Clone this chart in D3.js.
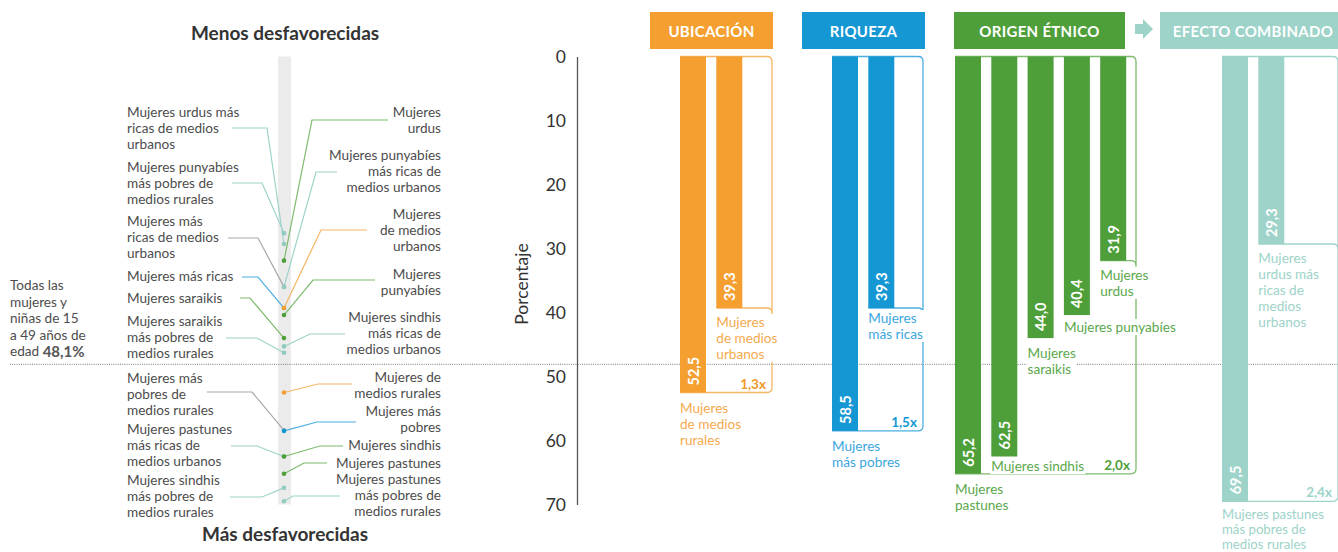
<!DOCTYPE html>
<html><head><meta charset="utf-8">
<script src="https://cdn.jsdelivr.net/npm/d3@7"></script>
<style>
body{margin:0;background:#fff;}
svg{display:block;font-family:Lato,"Open Sans",sans-serif;}
</style></head><body>
<svg id="chart" width="1338" height="552"></svg>
<script>
// ---- data ----
const yTicks = [0, 10, 20, 30, 40, 50, 60, 70];
const overallValue = 48.1;

const groupNames = ["UBICACIÓN", "RIQUEZA", "ORIGEN ÉTNICO", "EFECTO COMBINADO"];
const groupKeys = ["ubicacion", "riqueza", "etnico", "combinado"];

const ubicacionCats = ["Mujeres|de medios|rurales", "Mujeres|de medios|urbanos"];
const ubicacionValues = [52.5, 39.3];
const riquezaCats = ["Mujeres|más pobres", "Mujeres|más ricas"];
const riquezaValues = [58.5, 39.3];
const etnicoCats = ["Mujeres|pastunes", "Mujeres sindhis", "Mujeres|saraikis", "Mujeres punyabíes", "Mujeres|urdus"];
const etnicoValues = [65.2, 62.5, 44.0, 40.4, 31.9];
const combinadoCats = ["Mujeres pastunes|más pobres de|medios rurales", "Mujeres|urdus más|ricas de|medios|urbanos"];
const combinadoValues = [69.5, 29.3];
const ratioLabels = ["1,3x", "1,5x", "2,0x", "2,4x"];

// strip of all groups, labels on the left side
const stripLeftLabels = [
  "Mujeres urdus más|ricas de medios|urbanos",
  "Mujeres punyabíes|más pobres de|medios rurales",
  "Mujeres más|ricas de medios|urbanos",
  "Mujeres más ricas",
  "Mujeres saraikis",
  "Mujeres saraikis|más pobres de|medios rurales",
  "Mujeres más|pobres de|medios rurales",
  "Mujeres pastunes|más ricas de|medios urbanos",
  "Mujeres sindhis|más pobres de|medios rurales"
];
const stripLeftValues = [29.3, 27.6, 36.0, 39.3, 44.0, 46.3, 58.4, 62.5, 67.4];
const stripLeftKeys = ["combinado", "combinado", "mixto", "riqueza", "etnico", "combinado", "mixto", "combinado", "combinado"];

// strip labels on the right side
const stripRightLabels = [
  "Mujeres|urdus",
  "Mujeres punyabíes|más ricas de|medios urbanos",
  "Mujeres|de medios|urbanos",
  "Mujeres|punyabíes",
  "Mujeres sindhis|más ricas de|medios urbanos",
  "Mujeres de|medios rurales",
  "Mujeres más|pobres",
  "Mujeres sindhis",
  "Mujeres pastunes",
  "Mujeres pastunes|más pobres de|medios rurales"
];
const stripRightValues = [31.9, 36.0, 39.3, 40.4, 45.3, 52.5, 58.5, 62.5, 65.2, 69.5];
const stripRightKeys = ["etnico", "combinado", "ubicacion", "etnico", "combinado", "ubicacion", "riqueza", "etnico", "etnico", "combinado"];

// ---- styling / layout ----
const fill = {ubicacion: "#F49F30", riqueza: "#1597D4", etnico: "#4E9F3A", combinado: "#9DD3C9", mixto: "#B5B5B5"};
const textCol = {ubicacion: "#F5AA4E", riqueza: "#3CA6DE", etnico: "#5AA84B", combinado: "#9DD3C9"};
const strokeCol = {ubicacion: "#F6B663", riqueza: "#4BAEE0", etnico: "#7DBB6E", combinado: "#9DD3C9", mixto: "#A8A8A8"};
const labelColor = "#4d4d4d";
const lh = 16;
const fs = 13.6;

// left strip annotation layout: [first line y, leader y, leader start x, elbow x]
const leftLayout = [
  [112, 128, 232, 267], [167, 183, 232, 262], [221, 238, 228, 258], [276, 277, 242, 258],
  [298, 298, 240, 250], [321, 338, 226, 257], [378, 392, 207, 252], [429, 446, 231, 257],
  [479.5, 497, 230, 262]
];
const rightLayout = [
  [112, 120, 388, 312], [155, 172, 337, 316], [213.5, 230, 367, 321], [273.5, 280, 375, 313],
  [316.7, 334, 345, 310], [377.3, 384, 352, 318], [411, 422, 356, 317], [445, 446, 343, 320],
  [462.7, 463, 327, 304], [479, 496, 340, 293]
];
// per group: bar start x, bracket right x, header extent
const groupLayout = [
  {x: 680, right: 772, h0: 650, h1: 773},
  {x: 832, right: 923, h0: 802, h1: 925},
  {x: 955, right: 1136, h0: 954, h1: 1125},
  {x: 1222, right: 1338, h0: 1160, h1: 1346}
];
// category label placement per bar [dy of first line from bar end, line height, font size]
const catOffsets = [
  [[15, lh, fs], [14, lh, fs]],
  [[15, lh, fs], [10, lh, fs]],
  [[15, lh, fs], [9.5, lh, fs], [15, lh, fs], [12, lh, fs], [14, lh, fs]],
  [[12.5, 15, 13.2], [14, lh, fs]]
];

const locale = d3.formatLocale({decimal: ",", thousands: ".", grouping: [3], currency: ["", ""]});
const fmt = locale.format(".1f");

const svg = d3.select("#chart");
const y = d3.scaleLinear().domain([0, 70]).range([56.5, 504.5]);

// reference line for all women
svg.append("line")
  .attr("x1", 10).attr("x2", 1338)
  .attr("y1", y(overallValue)).attr("y2", y(overallValue))
  .attr("stroke", "#7a7a7a").attr("stroke-width", 1).attr("stroke-dasharray", "1 1.2");

// ---- left strip ----
const stripX = 284;
svg.insert("rect", "line")
  .attr("x", 278).attr("width", 13)
  .attr("y", y(0)).attr("height", y(70) - y(0))
  .attr("fill", "#ebebeb");

svg.append("text").attr("x", 285).attr("y", 32).attr("text-anchor", "middle")
  .attr("dominant-baseline", "central").attr("font-weight", 700).attr("font-size", 19)
  .attr("fill", "#333").text("Menos desfavorecidas");
svg.append("text").attr("x", 285).attr("y", 533).attr("text-anchor", "middle")
  .attr("dominant-baseline", "central").attr("font-weight", 700).attr("font-size", 19)
  .attr("fill", "#333").text("Más desfavorecidas");

const allText = svg.append("text").attr("font-size", fs).attr("fill", labelColor)
  .attr("dominant-baseline", "central");
["Todas las", "mujeres y", "niñas de 15", "a 49 años de"].forEach((t, i) =>
  allText.append("tspan").attr("x", 10).attr("y", 285 + i * 16.5).text(t));
allText.append("tspan").attr("x", 10).attr("y", 351).text("edad ");
allText.append("tspan").attr("font-weight", 700).attr("font-size", 15).attr("fill", "#555")
  .text(fmt(overallValue) + "%");

function multiline(g, str, x, y0, anchor, lineH, size) {
  const t = g.append("text").attr("font-size", size || fs).attr("dominant-baseline", "central")
    .attr("text-anchor", anchor);
  str.split("|").forEach((s, i) => t.append("tspan").attr("x", x).attr("y", y0 + i * (lineH || lh)).text(s));
  return t;
}

const stripG = svg.append("g");
function leader(val, key, lay) {
  const [, ly, sx, ex] = lay;
  stripG.append("path")
    .attr("d", d3.line()([[sx, ly], [ex, ly], [stripX, y(val)]]))
    .attr("fill", "none").attr("stroke", strokeCol[key]).attr("stroke-width", 1.2);
}
stripLeftValues.forEach((v, i) => leader(v, stripLeftKeys[i], leftLayout[i]));
stripRightValues.forEach((v, i) => leader(v, stripRightKeys[i], rightLayout[i]));

const dots = stripLeftValues.map((v, i) => ({v, k: stripLeftKeys[i]}))
  .concat(stripRightValues.map((v, i) => ({v, k: stripRightKeys[i]})));
stripG.selectAll("circle").data(dots).join("circle")
  .attr("cx", stripX).attr("cy", d => y(d.v)).attr("r", 2.3)
  .attr("fill", d => d.k === "combinado" ? "#8fcbbf" : fill[d.k]);

stripLeftLabels.forEach((s, i) => multiline(stripG, s, 127, leftLayout[i][0], "start").attr("fill", labelColor));
stripRightLabels.forEach((s, i) => multiline(stripG, s, 441, rightLayout[i][0], "end").attr("fill", labelColor));

// ---- y axis ----
const axis = svg.append("g").attr("transform", "translate(577,0)")
  .call(d3.axisLeft(y).tickValues(yTicks).tickSize(0).tickSizeOuter(0).tickPadding(11));
axis.select(".domain").attr("stroke", "#555").attr("stroke-width", 1.3);
axis.selectAll("text").attr("font-size", 17.5).attr("fill", "#333")
  .attr("font-family", "Lato,'Open Sans',sans-serif");
svg.append("text").attr("transform", "translate(521,284) rotate(-90)")
  .attr("text-anchor", "middle").attr("dominant-baseline", "central")
  .attr("font-size", 17.5).attr("fill", "#333").text("Porcentaje");

// ---- grouped bars ----
const groups = [
  {cats: ubicacionCats, values: ubicacionValues},
  {cats: riquezaCats, values: riquezaValues},
  {cats: etnicoCats, values: etnicoValues},
  {cats: combinadoCats, values: combinadoValues}
];
const step = 36.3, barW = 26;

groups.forEach((grp, gi) => {
  const key = groupKeys[gi];
  const lay = groupLayout[gi];
  const g = svg.append("g");
  const n = grp.cats.length;
  const x = d3.scaleBand().domain(grp.cats)
    .range([lay.x, lay.x + (n - 1) * step + barW])
    .paddingInner((step - barW) / step).paddingOuter(0);

  // header
  g.append("rect").attr("x", lay.h0).attr("y", 12).attr("width", lay.h1 - lay.h0).attr("height", 37)
    .attr("fill", fill[key]);
  g.append("text").attr("x", (lay.h0 + lay.h1) / 2).attr("y", 31)
    .attr("text-anchor", "middle").attr("dominant-baseline", "central")
    .attr("font-weight", 700).attr("font-size", 15).attr("letter-spacing", 0.3)
    .attr("fill", "#fff").text(groupNames[gi]);

  // bracket showing the spread between extremes
  const maxV = d3.max(grp.values), minV = d3.min(grp.values);
  const iMin = grp.values.indexOf(minV);
  const r = 5, xr = lay.right, left = x(grp.cats[0]);
  const p = d3.path();
  p.moveTo(left, y(0)); p.lineTo(xr - r, y(0)); p.quadraticCurveTo(xr, y(0), xr, y(0) + r);
  p.lineTo(xr, y(maxV) - r); p.quadraticCurveTo(xr, y(maxV), xr - r, y(maxV)); p.lineTo(left, y(maxV));
  p.moveTo(x(grp.cats[iMin]), y(minV)); p.lineTo(xr - r, y(minV));
  p.quadraticCurveTo(xr, y(minV), xr, y(minV) + r);
  g.append("path").attr("d", p.toString()).attr("fill", "none")
    .attr("stroke", strokeCol[key]).attr("stroke-width", 1.3);

  // bars
  g.selectAll("rect.bar").data(grp.values).join("rect").attr("class", "bar")
    .attr("x", (d, i) => x(grp.cats[i])).attr("width", x.bandwidth())
    .attr("y", y(0)).attr("height", d => y(d) - y(0))
    .attr("fill", fill[key]);

  // values inside the bars
  g.selectAll("text.val").data(grp.values).join("text").attr("class", "val")
    .attr("transform", (d, i) => `translate(${x(grp.cats[i]) + x.bandwidth() / 2},${y(d) - 7}) rotate(-90)`)
    .attr("dominant-baseline", "central").attr("font-weight", 700).attr("font-size", 14.5)
    .attr("fill", "#fff").text(d => fmt(d));

  // ratio between extremes
  g.append("text").attr("x", xr - 6).attr("y", y(maxV) - 9)
    .attr("text-anchor", "end").attr("dominant-baseline", "central")
    .attr("font-weight", 700).attr("font-size", 13.5).attr("fill", key === "ubicacion" ? "#F09A2A" : fill[key])
    .text(ratioLabels[gi]);

  // category labels with a white backing that breaks the bracket line
  grp.cats.forEach((c, i) => {
    const [dy, lineH, size] = catOffsets[gi][i];
    const bg = g.append("rect").attr("fill", "#fff");
    const t = multiline(g, c, x(c), y(grp.values[i]) + dy, "start", lineH, size)
      .attr("fill", textCol[key]);
    const b = t.node().getBBox();
    bg.attr("x", b.x - 1).attr("y", b.y).attr("width", b.width + 2).attr("height", b.height);
  });
});

// arrow leading into the combined effect
const ax = 1135, ay = 29;
svg.append("path")
  .attr("d", d3.line()([[ax, ay - 5], [ax + 8, ay - 5], [ax + 8, ay - 10], [ax + 18, ay], [ax + 8, ay + 10], [ax + 8, ay + 5], [ax, ay + 5]]) + "Z")
  .attr("fill", fill.combinado);
</script>
</body></html>
